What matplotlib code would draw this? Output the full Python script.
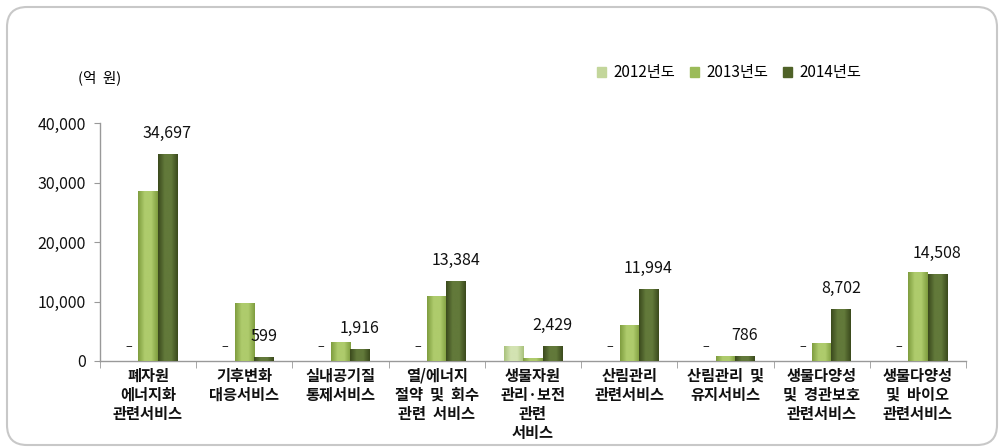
import numpy as np
import matplotlib
matplotlib.use("Agg")
import matplotlib.pyplot as plt
from matplotlib.patches import FancyBboxPatch, Rectangle
from matplotlib.colors import LinearSegmentedColormap

plt.rcParams['font.family'] = ['Noto Sans CJK KR', 'DejaVu Sans']

categories = ["폐자원\n에너지화\n관련서비스", "기후변화\n대응서비스", "실내공기질\n통제서비스",
              "열/에너지\n절약  및  회수\n관련  서비스", "생물자원\n관리·보전\n관련\n서비스",
              "산림관리\n관련서비스", "산림관리  및\n유지서비스", "생물다양성\n및  경관보호\n관련서비스",
              "생물다양성\n및  바이오\n관련서비스"]
series = ["2012년도", "2013년도", "2014년도"]
v2012 = [0, 0, 0, 0, 2400, 0, 0, 0, 0]
v2013 = [28600, 9700, 3100, 10900, 450, 5900, 700, 2900, 14900]
v2014 = [34697, 599, 1916, 13384, 2429, 11994, 786, 8702, 14508]
yticks = [0, 10000, 20000, 30000, 40000]

colors = ["#c3d69b", "#9bbb59", "#4f6228"]
# edge / centre tones for the shaded bar look
shades = [("#a9c27c", "#d3e3b2"), ("#7f9d3f", "#aecb6c"), ("#3b4a1d", "#62793a")]

fig = plt.figure(figsize=(9.99, 4.47), dpi=100)
ax = fig.add_axes([0.1, 0.1924, 0.867, 0.5316])

x = np.arange(len(categories))
w = 0.2
data = [v2012, v2013, v2014]
for i, vals in enumerate(data):
    bars = ax.bar(x + (i - 1) * w, vals, w, color=colors[i], zorder=2)
    cmap = LinearSegmentedColormap.from_list("s%d" % i, [shades[i][0], shades[i][1], shades[i][1], shades[i][0]])
    grad = np.linspace(0, 1, 64).reshape(1, -1)
    for b in bars:
        h = b.get_height()
        if h <= 0:
            continue
        ax.imshow(grad, cmap=cmap, aspect='auto', zorder=3,
                  extent=[b.get_x(), b.get_x() + b.get_width(), 0, h])
    # zero values shown as a dash
    for xi, v in zip(x, vals):
        if v == 0:
            ax.annotate("–", (xi + (i - 1) * w, 0), xytext=(0, 6), textcoords="offset points",
                        ha='center', va='bottom', fontsize=9, color='#222222')

for xi, v in zip(x, v2014):
    ax.annotate(f"{v:,}", (xi + w, v), xytext=(0, 9), textcoords="offset points",
                ha='center', va='bottom', fontsize=11.5, color='#111111')

ax.set_xlim(-0.5, len(categories) - 0.5)
ax.set_ylim(0, 40000)
ax.set_yticks(yticks)
ax.set_yticklabels([f"{t:,}" for t in yticks], fontsize=11.5, color='#111111')
ax.set_xticks(x)
ax.set_xticklabels(categories, fontsize=11, linespacing=1.22, fontweight='bold', color='#111111')
ax.set_xticks(np.arange(len(categories) + 1) - 0.5, minor=True)
ax.tick_params(axis='x', which='major', length=0, pad=5)
ax.tick_params(axis='x', which='minor', length=5, color='#999999', direction='out')
ax.tick_params(axis='y', length=4, color='#999999', pad=6)
for s in ['top', 'right']:
    ax.spines[s].set_visible(False)
for s in ['left', 'bottom']:
    ax.spines[s].set_color('#999999')
    ax.spines[s].set_linewidth(1.0)

handles = [Rectangle((0, 0), 1, 1, color=c) for c in colors]
leg = fig.legend(handles, series, loc='center', bbox_to_anchor=(0.73, 0.837), ncol=3,
                 frameon=False, fontsize=11, handlelength=0.55, handleheight=0.55,
                 handletextpad=0.5, columnspacing=1.0)

fig.text(0.078, 0.827, "(억  원)", fontsize=10.5, ha='left', va='center')

frame = FancyBboxPatch((0.07, 0.02), 9.90, 4.38, boxstyle="round,pad=0,rounding_size=0.2",
                       transform=fig.dpi_scale_trans, fill=False, edgecolor='#c8c8c8',
                       linewidth=1.5, zorder=-1)
fig.patches.append(frame)

fig.savefig("out.png", dpi=100)
